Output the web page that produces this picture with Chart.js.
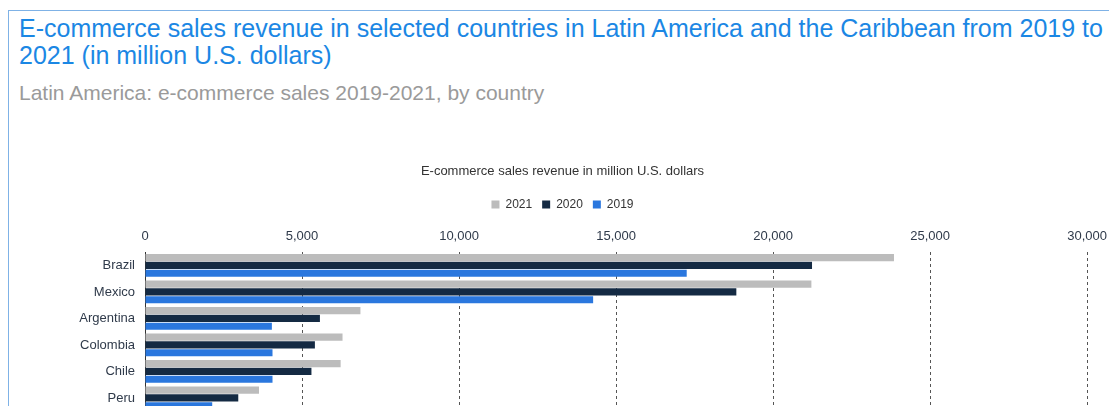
<!DOCTYPE html>
<html>
<head>
<meta charset="utf-8">
<script src="https://cdn.jsdelivr.net/npm/chart.js@4.4.1/dist/chart.umd.min.js"></script>
<style>
  html, body { margin: 0; padding: 0; background: #fff; overflow: hidden; }
  body { width: 1109px; height: 406px; position: relative; font-family: "Liberation Sans", Arial, sans-serif; }
  .frame { position: absolute; left: 8px; top: 10px; right: -2px; bottom: -10px;
           border-left: 1px solid #7fb2e6; border-top: 1px solid #7fb2e6; }
  .title { position: absolute; left: 19px; top: 15px; font-size: 25px; line-height: 27px;
           color: #1b87e4; white-space: nowrap; }
  .subtitle { position: absolute; left: 19px; top: 81px; font-size: 21px; line-height: 24px;
              color: #9a9a9a; white-space: nowrap; }
  .chart-box { position: absolute; left: 10px; top: 154px; width: 1105px; height: 275px; }
</style>
</head>
<body>
<div class="frame"></div>
<div class="title">E-commerce sales revenue in selected countries in Latin America and the Caribbean from 2019 to<br>2021 (in million U.S. dollars)</div>
<div class="subtitle">Latin America: e-commerce sales 2019-2021, by country</div>
<div class="chart-box"><canvas id="chart"></canvas></div>
<script>
// Countries and yearly e-commerce revenue (million U.S. dollars)
const countries = ["Brazil", "Mexico", "Argentina", "Colombia", "Chile", "Peru"];
const sales2021 = [23850, 21220, 6860, 6290, 6230, 3630];
const sales2020 = [21240, 18830, 5570, 5410, 5300, 2970];
const sales2019 = [17250, 14270, 4040, 4060, 4060, 2140];
const seriesLabels = ["2021", "2020", "2019"];
const axisTicks = [0, 5000, 10000, 15000, 20000, 25000, 30000];

const FONT = "'Liberation Sans', Arial, sans-serif";
const seriesColors = ["#bcbcbc", "#142a43", "#2a77de"];
const seriesData = [sales2021, sales2020, sales2019];

new Chart(document.getElementById("chart"), {
  type: "bar",
  data: {
    labels: countries,
    datasets: seriesLabels.map((label, i) => ({
      label,
      data: seriesData[i],
      backgroundColor: seriesColors[i],
      borderWidth: 0,
      categoryPercentage: 0.88,
      barPercentage: 0.92
    }))
  },
  options: {
    indexAxis: "y",
    responsive: true,
    maintainAspectRatio: false,
    animation: false,
    layout: { padding: { top: 0, bottom: 4, left: 0, right: 0 } },
    plugins: {
      tooltip: { enabled: false },
      title: {
        display: true,
        text: "E-commerce sales revenue in million U.S. dollars",
        color: "#333",
        font: { family: FONT, size: 13, weight: "normal" },
        padding: { top: 10, bottom: 9 }
      },
      legend: {
        display: true,
        position: "top",
        labels: {
          color: "#333",
          font: { family: FONT, size: 12 },
          boxWidth: 8,
          boxHeight: 8,
          padding: 10
        }
      }
    },
    scales: {
      x: {
        position: "top",
        min: 0,
        max: 30000,
        afterBuildTicks: (scale) => { scale.ticks = axisTicks.map(v => ({ value: v })); },
        ticks: {
          color: "#2f3a4a",
          font: { family: FONT, size: 13 },
          padding: 8,
          callback: (v) => v.toLocaleString("en-US")
        },
        grid: {
          drawTicks: false,
          lineWidth: 1,
          color: (ctx) => ctx.index === 0 ? "rgba(0,0,0,0)" : "#555"
        },
        border: { display: false, dash: [3, 3] }
      },
      y: {
        afterFit: (scale) => { scale.width = 135; },
        ticks: {
          color: "#2f3a4a",
          font: { family: FONT, size: 13 },
          padding: 10
        },
        grid: { display: false, drawTicks: false },
        border: { display: true, color: "#333", width: 1 }
      }
    }
  }
});
</script>
</body>
</html>
